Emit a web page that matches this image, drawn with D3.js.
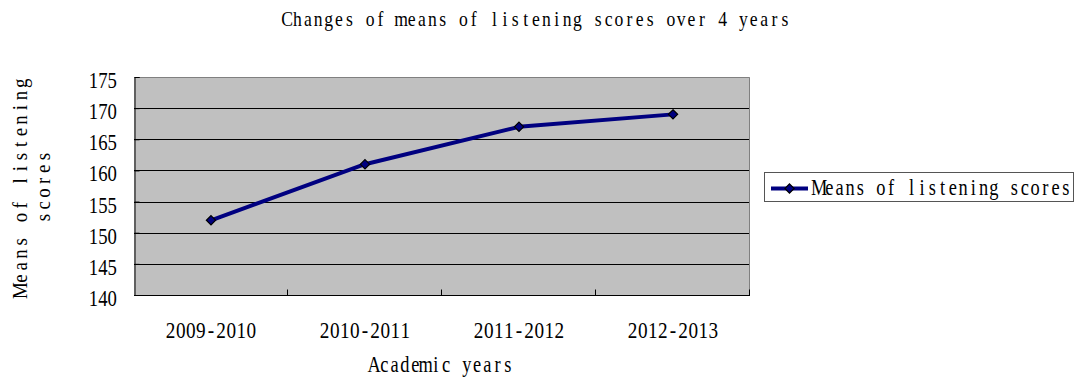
<!DOCTYPE html>
<html><head><meta charset="utf-8">
<script src="https://cdn.jsdelivr.net/npm/d3@7/dist/d3.min.js"></script>
<style>
html,body{margin:0;padding:0;background:#fff;}
svg{display:block;}
text{font-family:"Liberation Serif","DejaVu Serif",serif;fill:#000;}
</style></head>
<body>
<script>
const categories = ["2009-2010","2010-2011","2011-2012","2012-2013"];
const values = [152, 161, 167, 169];
const yTicks = [140,145,150,155,160,165,170,175];
const seriesName = "Means of listening scores";
const title = "Changes of means of listening scores over 4 years";
const xTitle = "Academic years";
const yTitle = ["Means of listening","scores"];

const W = 1075, H = 379;
const m = {left:134, right:750, top:77, bottom:295};
const svg = d3.select("body").append("svg").attr("width",W).attr("height",H);

const x = d3.scaleBand().domain(categories).range([m.left, m.right]).padding(0);
const y = d3.scaleLinear().domain([140,175]).range([m.bottom, m.top]);

// fixed-pitch serif text: each glyph centred in its own cell, horizontally compressed
function mono(parent, s, o){
  const n = s.length, sx = o.sx || 0.75, p = o.pitch;
  let start = o.x;
  if (o.anchor === "middle") start = o.x - n*p/2;
  else if (o.anchor === "end") start = o.x - n*p;
  const t = parent.append("text")
    .attr("transform", `translate(${start},${o.y}) scale(${sx},1)`)
    .attr("font-size", o.fs).attr("text-anchor","middle");
  t.selectAll("tspan").data(s.split("")).join("tspan")
    .attr("x",(c,i)=>(i+0.5)*p/sx).attr("y",0)
    .text(c=>c===" " ? "\u00a0" : c);
  return t;
}

// plot background
svg.append("rect").attr("x",m.left).attr("y",m.top)
  .attr("width",m.right-m.left).attr("height",m.bottom-m.top).attr("fill","#c0c0c0");

// gridlines
svg.append("g").selectAll("line").data(yTicks.filter(d=>d>140 && d<175)).join("line")
  .attr("x1",m.left).attr("x2",m.right)
  .attr("y1",d=>Math.round(y(d))+0.5).attr("y2",d=>Math.round(y(d))+0.5)
  .attr("stroke","#000").attr("stroke-width",1);

// top and right borders (gray)
svg.append("path").attr("d",`M${m.left},${m.top+0.5}H${m.right-0.5}V${m.bottom}`)
  .attr("fill","none").attr("stroke","#808080").attr("stroke-width",1);

// y axis
const yAxis = d3.axisLeft(y).tickValues(yTicks).tickSize(-5).tickFormat("");
const gy = svg.append("g").attr("transform",`translate(${m.left+0.5},0)`).call(yAxis);
gy.select(".domain").attr("stroke","#000");
gy.selectAll(".tick line").attr("stroke","#000");
const gyl = svg.append("g");
yTicks.forEach(d => mono(gyl, String(d), {x:117, y:y(d)+11, anchor:"end", fs:24, pitch:9.4, sx:0.78}));

// x axis
const gx = svg.append("g").attr("transform",`translate(0,${m.bottom+0.5})`);
gx.append("line").attr("x1",m.left).attr("x2",m.right).attr("stroke","#000");
const bounds = categories.map(c=>x(c)).slice(1).concat([x(categories[categories.length-1])+x.bandwidth()]);
gx.selectAll("line.tk").data(bounds).join("line").attr("class","tk")
  .attr("x1",d=>Math.round(d)-0.5).attr("x2",d=>Math.round(d)-0.5).attr("y1",0).attr("y2",-6)
  .attr("stroke","#000");
const gxl = svg.append("g");
categories.forEach(c => mono(gxl, c, {x:x(c)+x.bandwidth()/2, y:338, anchor:"middle", fs:24, pitch:10.1, sx:0.8}));

// line
const line = d3.line().x((d,i)=>x(categories[i])+x.bandwidth()/2).y(d=>y(d));
svg.append("path").datum(values).attr("d",line).attr("fill","none")
  .attr("stroke","#000080").attr("stroke-width",4).attr("stroke-linejoin","round");
const diamond = d3.symbol().type(d3.symbolDiamond2).size(55);
svg.append("g").selectAll("path").data(values).join("path")
  .attr("transform",(d,i)=>`translate(${x(categories[i])+x.bandwidth()/2},${y(d)})`)
  .attr("d",diamond).attr("fill","#000080").attr("stroke","#000").attr("stroke-width",1.2);

// title
mono(svg, title, {x:536, y:26, anchor:"middle", fs:21, pitch:10.37, sx:0.84});
// x title
mono(svg, xTitle, {x:441, y:372, anchor:"middle", fs:23, pitch:10.3, sx:0.8});
// y title
const yt = svg.append("g").attr("transform","translate(0,187) rotate(-90)");
mono(yt, yTitle[0], {x:0, y:27, anchor:"middle", fs:21, pitch:12.2, sx:0.9});
mono(yt, yTitle[1], {x:0, y:50, anchor:"middle", fs:21, pitch:12.2, sx:0.9});

// legend
const lg = svg.append("g");
lg.append("rect").attr("x",764.5).attr("y",172.5).attr("width",309).attr("height",29)
  .attr("fill","#fff").attr("stroke","#555").attr("stroke-width",1);
lg.append("line").attr("x1",771).attr("x2",808).attr("y1",188.5).attr("y2",188.5)
  .attr("stroke","#000080").attr("stroke-width",4);
lg.append("path").attr("transform","translate(789.5,188.5)").attr("d",diamond)
  .attr("fill","#000080").attr("stroke","#000").attr("stroke-width",1.2);
mono(lg, seriesName, {x:814, y:195, anchor:"start", fs:23, pitch:10.28, sx:0.8});
</script>
</body></html>
